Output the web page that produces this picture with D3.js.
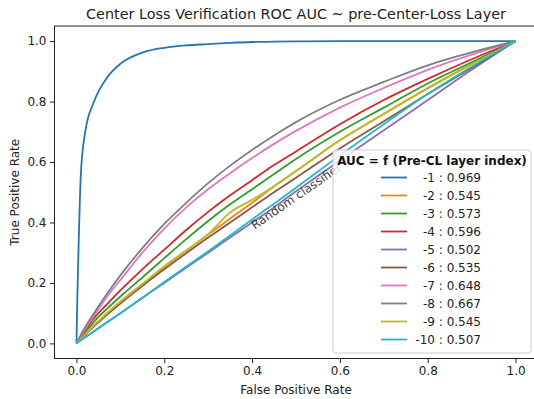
<!DOCTYPE html>
<html lang="en">
<head>
  <meta charset="UTF-8">
  <title>Center Loss ROC</title>
  <style>
    body { margin: 0; background: #fff; }
    text { font-family: "DejaVu Sans", sans-serif; }
  </style>
</head>
<body>
  <script src="https://cdn.jsdelivr.net/npm/d3@7"></script>
  <script>
    let width = 534
    let height = 399

    // data
    let fpr = [0, 0.002, 0.005, 0.01, 0.02, 0.04, 0.07, 0.1, 0.15, 0.2, 0.25, 0.3, 0.35, 0.4, 0.45, 0.5, 0.6, 0.7, 0.8, 0.9, 1.0]
    let layers = [-1, -2, -3, -4, -5, -6, -7, -8, -9, -10]
    let aucs = [0.969, 0.545, 0.573, 0.596, 0.502, 0.535, 0.648, 0.667, 0.545, 0.507]
    let tpr1 = [0, 0.15, 0.33, 0.56, 0.70, 0.80, 0.88, 0.925, 0.962, 0.978, 0.986, 0.99, 0.994, 0.997, 0.998, 0.999, 1, 1, 1, 1, 1]
    let tpr2 = [0, 0.003, 0.007, 0.014, 0.03, 0.06, 0.10, 0.138, 0.196, 0.252, 0.306, 0.36, 0.413, 0.465, 0.52, 0.57, 0.672, 0.76, 0.845, 0.925, 1]
    let tpr3 = [0, 0.004, 0.009, 0.018, 0.037, 0.072, 0.115, 0.155, 0.218, 0.282, 0.345, 0.405, 0.46, 0.51, 0.56, 0.61, 0.70, 0.78, 0.86, 0.93, 1]
    let tpr4 = [0, 0.005, 0.011, 0.022, 0.043, 0.083, 0.13, 0.175, 0.245, 0.31, 0.375, 0.435, 0.49, 0.54, 0.59, 0.635, 0.725, 0.805, 0.875, 0.94, 1]
    let tpr5 = [0, 0.002, 0.005, 0.01, 0.02, 0.04, 0.07, 0.10, 0.15, 0.20, 0.25, 0.30, 0.35, 0.40, 0.45, 0.503, 0.605, 0.705, 0.805, 0.905, 1]
    let tpr6 = [0, 0.003, 0.007, 0.013, 0.028, 0.056, 0.095, 0.132, 0.19, 0.245, 0.298, 0.35, 0.40, 0.45, 0.50, 0.548, 0.645, 0.735, 0.825, 0.912, 1]
    let tpr7 = [0, 0.005, 0.012, 0.024, 0.047, 0.092, 0.155, 0.21, 0.30, 0.38, 0.45, 0.51, 0.563, 0.613, 0.66, 0.703, 0.78, 0.845, 0.905, 0.955, 1]
    let tpr8 = [0, 0.006, 0.014, 0.028, 0.054, 0.10, 0.165, 0.225, 0.315, 0.395, 0.465, 0.53, 0.588, 0.64, 0.688, 0.732, 0.806, 0.865, 0.92, 0.963, 1]
    let tpr9 = [0, 0.003, 0.007, 0.014, 0.03, 0.06, 0.10, 0.138, 0.196, 0.255, 0.308, 0.362, 0.433, 0.475, 0.52, 0.57, 0.672, 0.758, 0.843, 0.923, 1]
    let tpr10 = [0, 0.002, 0.005, 0.01, 0.02, 0.04, 0.07, 0.10, 0.151, 0.203, 0.254, 0.305, 0.357, 0.41, 0.462, 0.515, 0.622, 0.725, 0.825, 0.915, 1]
    let series = [tpr1, tpr2, tpr3, tpr4, tpr5, tpr6, tpr7, tpr8, tpr9, tpr10]
    let ticks = [0, 0.2, 0.4, 0.6, 0.8, 1.0]
    let colors = ['#1f77b4', '#ff7f0e', '#2ca02c', '#d62728', '#9467bd', '#8c564b', '#e377c2', '#7f7f7f', '#bcbd22', '#17becf']

    let padding = { left: 54.5, right: -3.5, top: 26, bottom: 40.5 }

    let svg = d3.select('body')
      .append('svg')
      .attr('width', width)
      .attr('height', height)

    let xScale = d3.scaleLinear()
      .domain([-0.05, 1.05])
      .range([padding.left, width - padding.right])

    let yScale = d3.scaleLinear()
      .domain([-0.05, 1.05])
      .range([height - padding.bottom, padding.top])

    // curves
    let line = d3.line()
      .x(function (d) { return xScale(d[0]) })
      .y(function (d) { return yScale(d[1]) })
      .curve(d3.curveMonotoneX)

    svg.selectAll('.roc')
      .data(series)
      .enter()
      .append('path')
      .attr('class', 'roc')
      .attr('d', function (s) { return line(fpr.map(function (f, i) { return [f, s[i]] })) })
      .attr('fill', 'none')
      .attr('stroke', function (d, i) { return colors[i] })
      .attr('stroke-width', 1.8)

    // random classifier label along the diagonal
    let angle = Math.atan2(yScale(0) - yScale(1), xScale(1) - xScale(0)) * 180 / Math.PI
    svg.append('text')
      .attr('transform', `translate(${xScale(0.4)},${yScale(0.4)}) rotate(${-angle})`)
      .attr('x', -2)
      .attr('y', 7.5)
      .attr('font-size', 12)
      .attr('fill', '#444')
      .text('Random classifier')

    // axes
    let xAxis = d3.axisBottom(xScale).tickValues(ticks).tickFormat(d3.format('.1f')).tickSizeOuter(0).tickSize(4.5).tickPadding(3.5)
    let yAxis = d3.axisLeft(yScale).tickValues(ticks).tickFormat(d3.format('.1f')).tickSizeOuter(0).tickSize(4.5).tickPadding(3.5)

    svg.append('g')
      .attr('transform', `translate(0,${height - padding.bottom})`)
      .call(xAxis)
    svg.append('g')
      .attr('transform', `translate(${padding.left},0)`)
      .call(yAxis)
    svg.selectAll('.tick text').attr('font-size', 12).attr('font-family', 'DejaVu Sans').attr('fill', '#222')
    svg.selectAll('.tick line').attr('stroke', '#222')
    svg.selectAll('.domain').remove()

    // spines
    svg.append('rect')
      .attr('x', padding.left)
      .attr('y', padding.top)
      .attr('width', width - padding.right - padding.left)
      .attr('height', height - padding.bottom - padding.top)
      .attr('fill', 'none')
      .attr('stroke', '#222')
      .attr('stroke-width', 1)

    // title and axis labels
    svg.append('text')
      .attr('x', (padding.left + width - padding.right) / 2)
      .attr('y', 18.5)
      .attr('text-anchor', 'middle')
      .attr('font-size', 14.4)
      .attr('fill', '#222')
      .text('Center Loss Verification ROC AUC ~ pre-Center-Loss Layer')

    svg.append('text')
      .attr('x', (padding.left + width - padding.right) / 2)
      .attr('y', 394)
      .attr('text-anchor', 'middle')
      .attr('font-size', 12)
      .attr('fill', '#222')
      .text('False Positive Rate')

    svg.append('text')
      .attr('transform', `translate(19,${(padding.top + height - padding.bottom) / 2}) rotate(-90)`)
      .attr('text-anchor', 'middle')
      .attr('font-size', 12)
      .attr('fill', '#222')
      .text('True Positive Rate')

    // legend
    let legend = svg.append('g')
    legend.append('rect')
      .attr('x', 333)
      .attr('y', 150)
      .attr('width', 198)
      .attr('height', 203)
      .attr('rx', 3)
      .attr('fill', 'white')
      .attr('fill-opacity', 0.8)
      .attr('stroke', '#cccccc')

    legend.append('text')
      .attr('x', 432)
      .attr('y', 164.5)
      .attr('text-anchor', 'middle')
      .attr('font-size', 12)
      .attr('font-weight', 'bold')
      .attr('fill', '#111')
      .text('AUC = f (Pre-CL layer index)')

    let items = legend.selectAll('.item')
      .data(layers)
      .enter()
      .append('g')
      .attr('class', 'item')
      .attr('transform', function (d, i) { return `translate(0,${177.5 + i * 18})` })

    items.append('line')
      .attr('x1', 381)
      .attr('x2', 407)
      .attr('stroke', function (d, i) { return colors[i] })
      .attr('stroke-width', 1.8)

    items.append('text')
      .attr('x', 481)
      .attr('y', 4.3)
      .attr('text-anchor', 'end')
      .attr('font-size', 12)
      .attr('fill', '#222')
      .text(function (d, i) { return `${d} : ${aucs[i].toFixed(3)}` })
  </script>
</body>
</html>
